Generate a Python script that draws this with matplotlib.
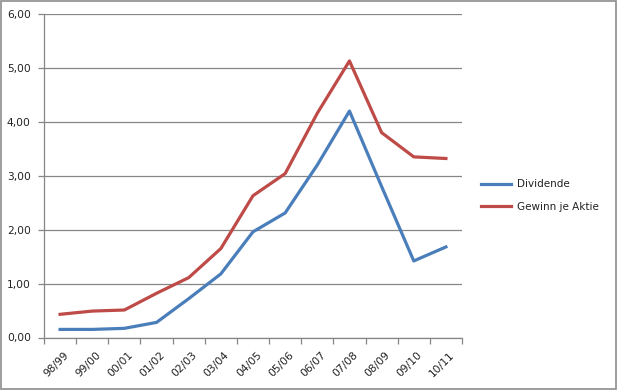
import matplotlib
matplotlib.use("Agg")
import matplotlib.pyplot as plt
from matplotlib.patches import Rectangle
import numpy as np

categories = ["98/99", "99/00", "00/01", "01/02", "02/03", "03/04", "04/05",
              "05/06", "06/07", "07/08", "08/09", "09/10", "10/11"]
dividende = [0.15, 0.15, 0.17, 0.28, 0.72, 1.18, 1.96, 2.31, 3.20, 4.20, 2.80, 1.42, 1.68]
gewinn = [0.43, 0.49, 0.51, 0.82, 1.11, 1.65, 2.63, 3.04, 4.16, 5.13, 3.80, 3.35, 3.32]
yticks = [0, 1, 2, 3, 4, 5, 6]
ytick_labels = ["0,00", "1,00", "2,00", "3,00", "4,00", "5,00", "6,00"]

plt.rcParams['font.family'] = ['DejaVu Sans']

fig = plt.figure(figsize=(6.17, 3.90), dpi=100)
fig.patches.append(Rectangle((0.0015, 0.002), 0.997, 0.995, transform=fig.transFigure,
                             fill=False, edgecolor='#8c8c8c', linewidth=1.2))
ax = fig.add_axes([44/617, 52.5/390, 418/617, 323.5/390])

x = np.arange(len(categories)) + 0.5
ax.plot(x, dividende, color='#4A7EBB', linewidth=2.3, label='Dividende', solid_joinstyle='round')
ax.plot(x, gewinn, color='#BE4B48', linewidth=2.3, label='Gewinn je Aktie', solid_joinstyle='round')

ax.set_xlim(0, len(categories))
ax.set_ylim(0, 6)
ax.set_yticks(yticks)
ax.set_yticklabels(ytick_labels, fontsize=7.7, color='#222222')
ax.yaxis.grid(True, color='#868686', linewidth=0.9)
ax.set_axisbelow(True)

ax.set_xticks(np.arange(len(categories) + 1))
ax.set_xticklabels([])
ax.set_xticks(x + 0.1, minor=True)
ax.set_xticklabels(categories, minor=True, rotation=45, ha='right', va='top',
                   rotation_mode='anchor', fontsize=7.7, color='#222222')
ax.tick_params(axis='x', which='minor', length=0, pad=9)
ax.tick_params(axis='x', which='major', length=4, color='#868686', width=0.9)
ax.tick_params(axis='y', length=4, color='#868686', width=0.9, pad=5.5)

for s in ['top', 'right']:
    ax.spines[s].set_visible(False)
for s in ['left', 'bottom']:
    ax.spines[s].set_color('#868686')
    ax.spines[s].set_linewidth(0.9)

leg = fig.legend(loc='upper left', bbox_to_anchor=(472/617, 1 - 170/390), frameon=False,
                 fontsize=7.5, handlelength=2.8, labelspacing=1.2, handletextpad=0.6)
for t in leg.get_texts():
    t.set_color('#222222')

fig.savefig('out.png', dpi=100)
